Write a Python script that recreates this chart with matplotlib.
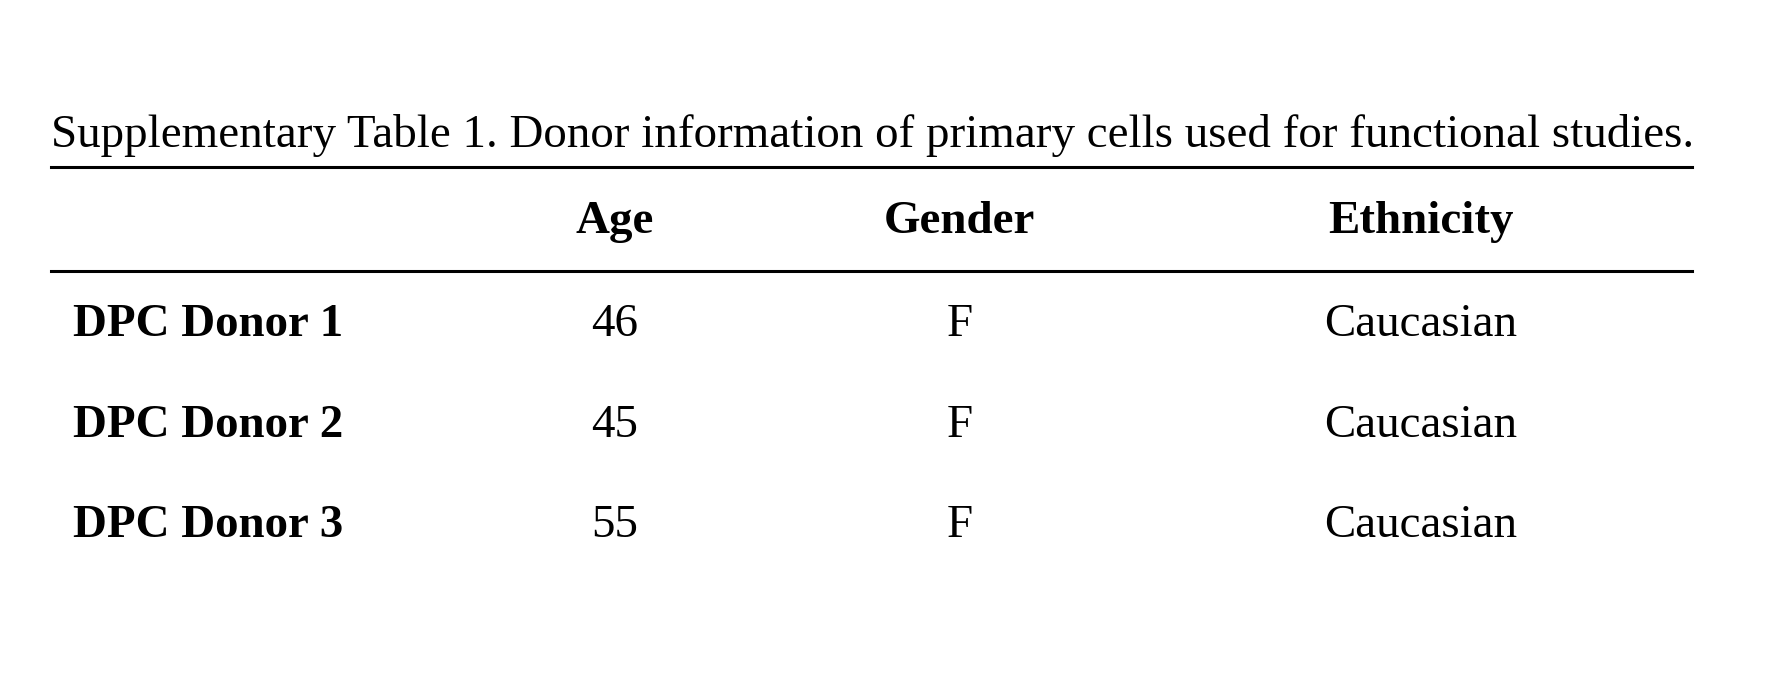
import matplotlib.pyplot as plt

title = "Supplementary Table 1. Donor information of primary cells used for functional studies."
columns = ["Age", "Gender", "Ethnicity"]
donors = ["DPC Donor 1", "DPC Donor 2", "DPC Donor 3"]
ages = ["46", "45", "55"]
genders = ["F", "F", "F"]
ethnicities = ["Caucasian", "Caucasian", "Caucasian"]

W, H = 1566, 606  # reference layout units
plt.rcParams['font.family'] = ['Liberation Serif', 'DejaVu Serif']

fig = plt.figure(figsize=(17.66, 6.84), dpi=100)
fig.patch.set_facecolor('white')

def fx(x):
    return x / W

def fy(y):
    return 1 - y / H

fs = 33.8
fig.text(fx(45), fy(120), title, fontsize=fs, ha='left', va='center')

for y in (148, 240):
    fig.add_artist(plt.Line2D([fx(45), fx(1500)], [fy(y), fy(y)], color='black', lw=2.2))

col_x = [545, 851, 1260]
for x, c in zip(col_x, columns):
    fig.text(fx(x), fy(197), c, fontsize=fs, weight='bold', ha='center', va='center')

row_y = [288, 377, 466]
for y, d, a, g, e in zip(row_y, donors, ages, genders, ethnicities):
    fig.text(fx(65), fy(y), d, fontsize=fs, weight='bold', ha='left', va='center')
    for x, v in zip(col_x, (a, g, e)):
        fig.text(fx(x), fy(y), v, fontsize=fs, ha='center', va='center')

fig.savefig('out.png', dpi=100, facecolor='white')
